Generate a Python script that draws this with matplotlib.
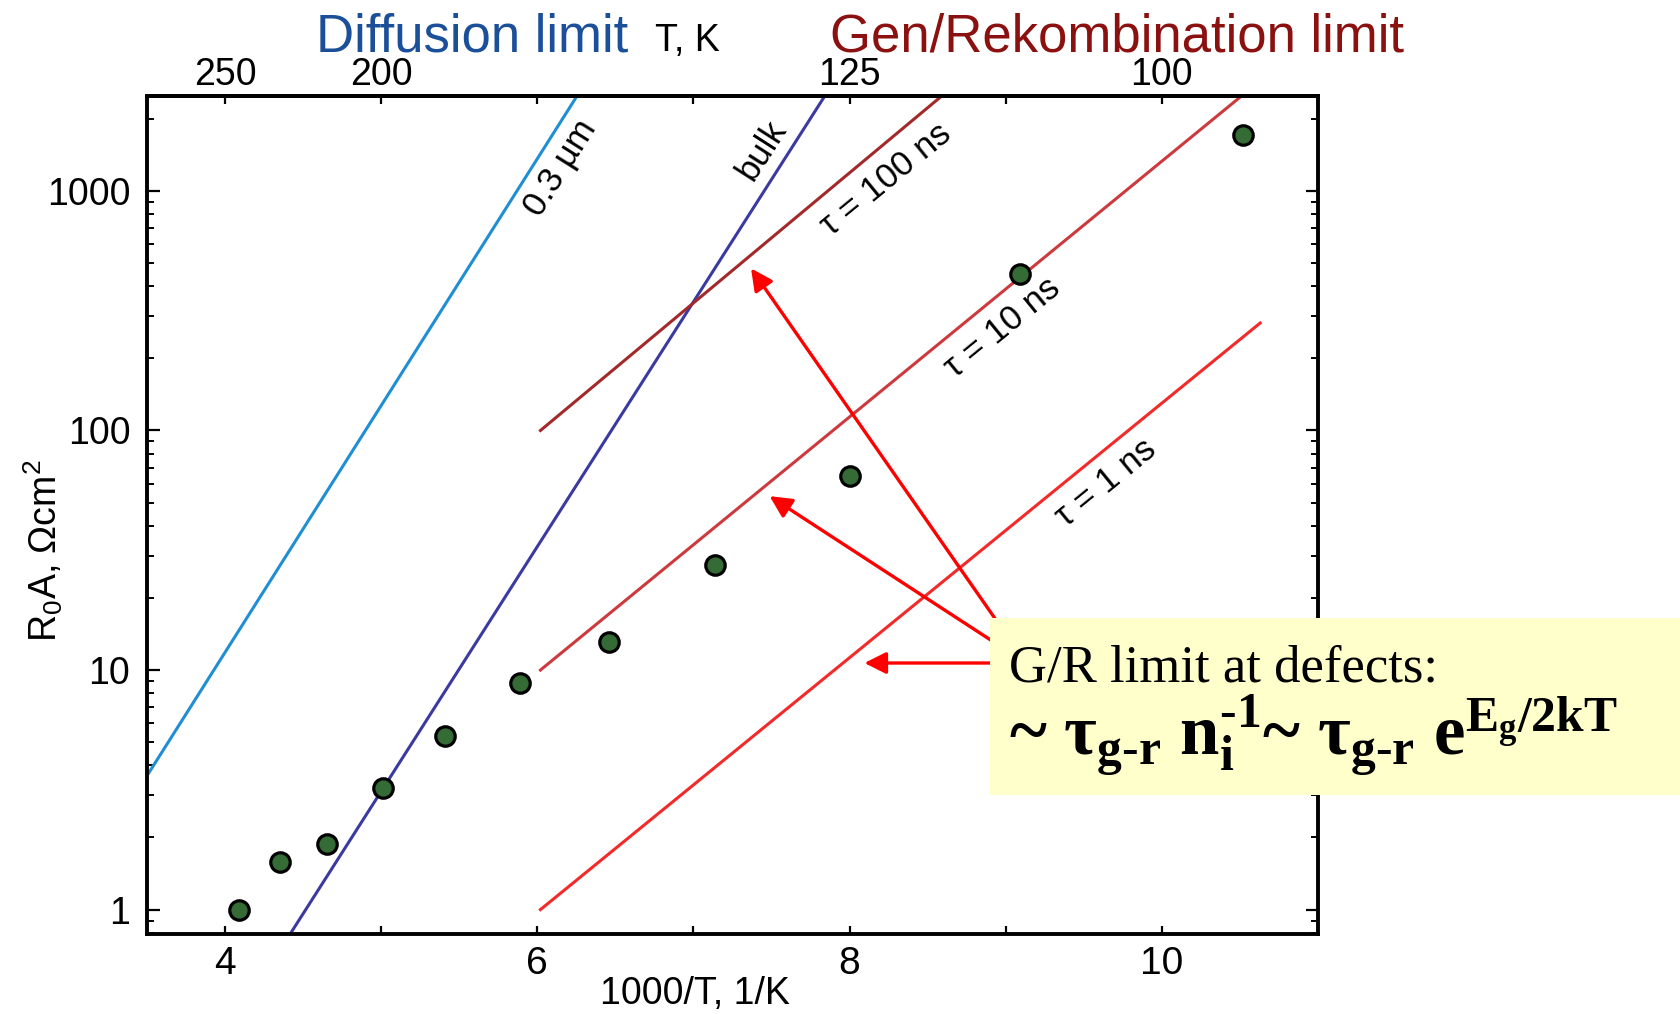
import matplotlib
matplotlib.use("Agg")
import matplotlib.pyplot as plt
from matplotlib.patches import Rectangle
from matplotlib.ticker import LogLocator, NullFormatter

# ---------------- data ----------------
inv_T = [4.09, 4.35, 4.65, 5.01, 5.41, 5.89, 6.46, 7.14, 8.00, 9.09, 10.52]
r0a = [1.0, 1.58, 1.87, 3.21, 5.30, 8.85, 13.1, 27.4, 64.7, 449, 1720]

diff03_x = [3.50, 6.254]
diff03_y = [3.62, 2490]
bulk_x = [4.417, 7.841]
bulk_y = [0.791, 2490]
tau100_x = [6.02, 8.59]
tau100_y = [100, 2490]
tau10_x = [6.02, 10.51]
tau10_y = [10, 2490]
tau1_x = [6.02, 10.63]
tau1_y = [1.0, 281]

x_ticks = [4, 5, 6, 7, 8, 9, 10]
x_ticklabels = ["4", "", "6", "", "8", "", "10"]
top_ticks = [4, 5, 6, 7, 8, 9, 10]
top_ticklabels = ["250", "200", "", "", "125", "", "100"]
y_ticks = [1, 10, 100, 1000]
y_ticklabels = ["1", "10", "100", "1000"]

# arrows: common start, tips on curves
arrow_start = (9.13, 10.7)
arrow_tips = [(7.369, 475), (7.488, 53.2), (8.095, 10.7)]

# ---------------- style ----------------
plt.rcParams['font.family'] = ['Liberation Sans', 'DejaVu Sans']
plt.rcParams['mathtext.default'] = 'regular'

fig = plt.figure(figsize=(16.8, 10.14), dpi=100)
ax = fig.add_axes([0.0875, 0.0789, 0.6970, 0.8264])

lw = 2.2
ax.plot(diff03_x, diff03_y, color='#1f8ed3', lw=lw, zorder=2)
ax.plot(bulk_x, bulk_y, color='#3a3aa0', lw=lw, zorder=2)
ax.plot(tau100_x, tau100_y, color='#a3292b', lw=lw, zorder=2)
ax.plot(tau10_x, tau10_y, color='#cc3a3e', lw=lw, zorder=2)
ax.plot(tau1_x, tau1_y, color='#f22a2a', lw=lw, zorder=2)

ax.plot(inv_T, r0a, 'o', ms=14, mfc='#356b35', mec='black', mew=2.3,
        ls='none', zorder=4)

ax.set_yscale('log')
ax.set_xlim(3.5, 11.0)
ax.set_ylim(0.791, 2490)

ax.set_xticks(x_ticks)
ax.set_xticklabels(x_ticklabels)
ax.set_yticks(y_ticks)
ax.set_yticklabels(y_ticklabels)
ax.yaxis.set_minor_locator(LogLocator(base=10, subs=range(2, 10)))
ax.yaxis.set_minor_formatter(NullFormatter())

for s in ax.spines.values():
    s.set_linewidth(2.8)

ax.tick_params(axis='both', which='both', direction='in', right=True)
ax.tick_params(axis='y', which='major', length=9, width=1.6, pad=12, labelsize=27)
ax.tick_params(axis='y', which='minor', length=5, width=1.4)
ax.tick_params(axis='x', which='major', length=6, width=1.6, pad=9, labelsize=28)

sec = ax.secondary_xaxis('top', functions=(lambda v: v, lambda v: v))
sec.set_xticks(top_ticks)
sec.set_xticklabels(top_ticklabels)
sec.tick_params(direction='in', length=6, width=1.6, labelsize=27, pad=2)
sec.spines['top'].set_linewidth(2.8)

ax.set_xlabel('1000/T, 1/K', fontsize=27)
ax.xaxis.label.set_va('center')
ax.xaxis.set_label_coords(0.468, -0.072)
ax.set_ylabel('R$_0$A, Ωcm$^2$', fontsize=27)
ax.yaxis.label.set_va('center')
ax.yaxis.set_label_coords(-0.089, 0.457)

# in-plot labels
lab_kw = dict(fontsize=25, ha='center', va='center', rotation_mode='anchor')
ax.text(6.148, 1245, '0.3 µm', rotation=57.8, **lab_kw)
ax.text(7.438, 1480, 'bulk', rotation=57.4, **lab_kw)
ax.text(8.231, 1109, 'τ = 100 ns', rotation=39.3, **lab_kw)
ax.text(8.979, 267, 'τ = 10 ns', rotation=39.3, **lab_kw)
ax.text(9.644, 60.3, 'τ = 1 ns', rotation=39.3, **lab_kw)

for tip in arrow_tips:
    ax.annotate('', xy=tip, xytext=arrow_start,
                arrowprops=dict(arrowstyle='-|>,head_length=0.6,head_width=0.3',
                                color='#ff0000', lw=2.4, mutation_scale=22,
                                shrinkA=0, shrinkB=0), zorder=5)

# header texts
fig.text(316 / 1680, 1 - 51 / 1014, 'Diffusion limit', color='#1b4f9a',
         fontsize=38, va='baseline', ha='left')
fig.text(655 / 1680, 1 - 51 / 1014, 'T, K', color='black',
         fontsize=27, va='baseline', ha='left')
fig.text(830 / 1680, 1 - 51 / 1014, 'Gen/Rekombination limit', color='#8b1010',
         fontsize=38, va='baseline', ha='left')

# annotation box
box = Rectangle((990 / 1680, 1 - 795 / 1014), 690 / 1680, 177 / 1014,
                transform=fig.transFigure, facecolor='#ffffcc',
                edgecolor='none', zorder=10)
fig.patches.append(box)
fig.text(1009 / 1680, 1 - 681 / 1014, 'G/R limit at defects:',
         family=['Liberation Serif', 'DejaVu Serif'], fontsize=38,
         va='baseline', ha='left', zorder=11)
fig.text(1009 / 1680, 1 - 755 / 1014,
         r'~ $\tau_{g‐r}$ $n_i^{‐1}$~ $\tau_{g‐r}$ $e^{E_g/2kT}$',
         family=['Liberation Serif', 'DejaVu Serif'], fontweight='bold',
         fontsize=51, va='baseline', ha='left', zorder=11)

fig.savefig('out.png', dpi=100)
